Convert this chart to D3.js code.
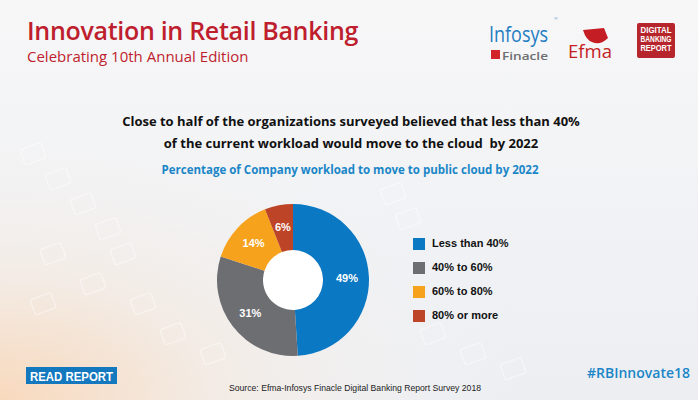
<!DOCTYPE html>
<html><head><meta charset="utf-8">
<script src="https://cdn.jsdelivr.net/npm/d3@7"></script>
<style>html,body{margin:0;padding:0;background:#fff;}svg{display:block;}</style>
</head><body>
<svg id="c" width="698" height="400"></svg>
<script>
const categories = ["Less than 40%", "40% to 60%", "60% to 80%", "80% or more"];
const values = [49, 31, 14, 6];
const colors = ["#0a78c2", "#6d6e72", "#f6a21d", "#bd4427"];
const labels = ["49%", "31%", "14%", "6%"];

const svg = d3.select("#c");
const defs = svg.append("defs");
const rg = defs.append("radialGradient").attr("id","warm").attr("cx","0").attr("cy","1").attr("r","0.75");
rg.append("stop").attr("offset","0").attr("stop-color","#f8d9bd");
rg.append("stop").attr("offset","0.4").attr("stop-color","#f3ebe4");
rg.append("stop").attr("offset","1").attr("stop-color","#f4f5f7").attr("stop-opacity","0");
const lg = defs.append("linearGradient").attr("id","bg").attr("x1","0").attr("y1","0").attr("x2","0").attr("y2","1");
lg.append("stop").attr("offset","0").attr("stop-color","#f7f7f8");
lg.append("stop").attr("offset","1").attr("stop-color","#eceef2");
svg.append("rect").attr("width",698).attr("height",400).attr("fill","url(#bg)");
svg.append("rect").attr("width",698).attr("height",400).attr("fill","url(#warm)");
// subtle decorative tiles
const tiles = [[20,150],[45,175],[70,200],[95,225],[40,250],[80,280],[130,300],[160,330],[200,350],[420,330],[460,350],[500,365],[30,300],[110,250],[380,190],[395,215]];
svg.append("g").selectAll("rect").data(tiles).join("rect")
  .attr("x",d=>d[0]).attr("y",d=>d[1]).attr("width",22).attr("height",16).attr("rx",2)
  .attr("fill","none").attr("stroke","#ffffff").attr("stroke-width",1.5).attr("opacity",0.4)
  .attr("transform",d=>`rotate(-20,${d[0]},${d[1]})`);

// Titles
svg.append("text").attr("x",27).attr("y",40).attr("font-family","Open Sans, sans-serif").attr("font-weight",600)
  .attr("font-size",25).attr("fill","#be1e2d").attr("letter-spacing","-0.3").text("Innovation in Retail Banking");
svg.append("text").attr("x",27).attr("y",62).attr("font-family","Open Sans, sans-serif")
  .attr("font-size",15).attr("fill","#be1e2d").text("Celebrating 10th Annual Edition");

// Logos
svg.append("text").attr("x",489).attr("y",42).attr("font-family","Open Sans, sans-serif").attr("font-size",21)
  .attr("fill","#1e7dc2").attr("textLength",59).attr("lengthAdjust","spacingAndGlyphs").text("Infosys");
svg.append("text").attr("x",554).attr("y",20).attr("font-size",5).attr("fill","#1e7dc2").text("®");
svg.append("rect").attr("x",491).attr("y",50).attr("width",9).attr("height",9).attr("fill","#d2232a");
svg.append("text").attr("x",502).attr("y",60).attr("font-family","Open Sans, sans-serif").attr("font-weight",600).attr("font-size",11.5)
  .attr("fill","#6d6e71").attr("textLength",46).attr("lengthAdjust","spacingAndGlyphs").text("Finacle");
svg.append("path").attr("d","M583 30 L604 28 L608 38 Q600 46 592 42 Q586 40 583 30 Z").attr("fill","#c41e24");
svg.append("text").attr("x",568).attr("y",58).attr("font-family","Open Sans, sans-serif").attr("font-size",19)
  .attr("fill","#c41e24").attr("textLength",44).attr("lengthAdjust","spacingAndGlyphs").text("Efma");
svg.append("rect").attr("x",637).attr("y",23).attr("width",38).attr("height",35).attr("rx",2).attr("fill","#b5252b");
["DIGITAL","BANKING","REPORT"].forEach((t,i)=>svg.append("text").attr("x",656).attr("y",33+i*9)
  .attr("text-anchor","middle").attr("font-family","Liberation Sans, Arial, sans-serif").attr("font-weight",700)
  .attr("font-size",8.5).attr("fill","#fff").attr("textLength",31).attr("lengthAdjust","spacingAndGlyphs").text(t));

// Headline
const hl = ["Close to half of the organizations surveyed believed that less than 40%","of the current workload would move to the cloud  by 2022"];
hl.forEach((t,i)=>svg.append("text").attr("x",351).attr("y",126+i*22).attr("text-anchor","middle")
  .attr("font-family","Open Sans, sans-serif").attr("font-weight",700).attr("font-size",13).attr("fill","#111")
  .style("white-space","pre").text(t));
svg.append("text").attr("x",350).attr("y",174).attr("text-anchor","middle").attr("font-family","Open Sans, sans-serif")
  .attr("font-weight",700).attr("font-size",11.5).attr("fill","#1a86c8").text("Percentage of Company workload to move to public cloud by 2022");

// Donut
const cx = 293, cy = 280, R = 76, r0 = 30;
const pie = d3.pie().sort(null).value(d=>d)(values);
const arc = d3.arc().innerRadius(r0).outerRadius(R);
const lab = d3.arc().innerRadius(54).outerRadius(54);
const g = svg.append("g").attr("transform",`translate(${cx},${cy})`);
g.append("circle").attr("r",r0).attr("fill","#fff");
g.selectAll("path").data(pie).join("path").attr("d",arc).attr("fill",(d,i)=>colors[i]);
g.selectAll("text").data(pie).join("text")
  .attr("transform",(d,i)=>{const c=lab.centroid(d); return `translate(${c[0]},${c[1]})`;})
  .attr("text-anchor","middle").attr("dy","0.35em").attr("font-family","Liberation Sans, Arial, sans-serif")
  .attr("font-weight",700).attr("font-size",11).attr("fill","#fff").text((d,i)=>labels[i]);

// Legend
const leg = svg.append("g").attr("transform","translate(413,238)");
const rows = leg.selectAll("g").data(categories).join("g").attr("transform",(d,i)=>`translate(0,${i*24})`);
rows.append("rect").attr("width",12).attr("height",12).attr("fill",(d,i)=>colors[i]);
rows.append("text").attr("x",19).attr("y",9).attr("font-family","Liberation Sans, Arial, sans-serif")
  .attr("font-weight",700).attr("font-size",11).attr("fill","#111").text(d=>d);

// Footer
svg.append("rect").attr("x",26).attr("y",367).attr("width",91).attr("height",17).attr("fill","#1378be");
svg.append("text").attr("x",30).attr("y",380.5).attr("font-family","Liberation Sans, Arial, sans-serif")
  .attr("font-weight",700).attr("font-size",13).attr("fill","#fff").attr("textLength",83).attr("lengthAdjust","spacingAndGlyphs").text("READ REPORT");
svg.append("text").attr("x",690).attr("y",378).attr("text-anchor","end").attr("font-family","Open Sans, sans-serif")
  .attr("font-weight",600).attr("font-size",14).attr("fill","#1a86c8").text("#RBInnovate18");
svg.append("text").attr("x",229).attr("y",391).attr("font-family","Liberation Sans, Arial, sans-serif")
  .attr("font-size",9.5).attr("fill","#222").attr("textLength",252).attr("lengthAdjust","spacingAndGlyphs")
  .text("Source: Efma-Infosys Finacle Digital Banking Report Survey 2018");
</script>
</body></html>
